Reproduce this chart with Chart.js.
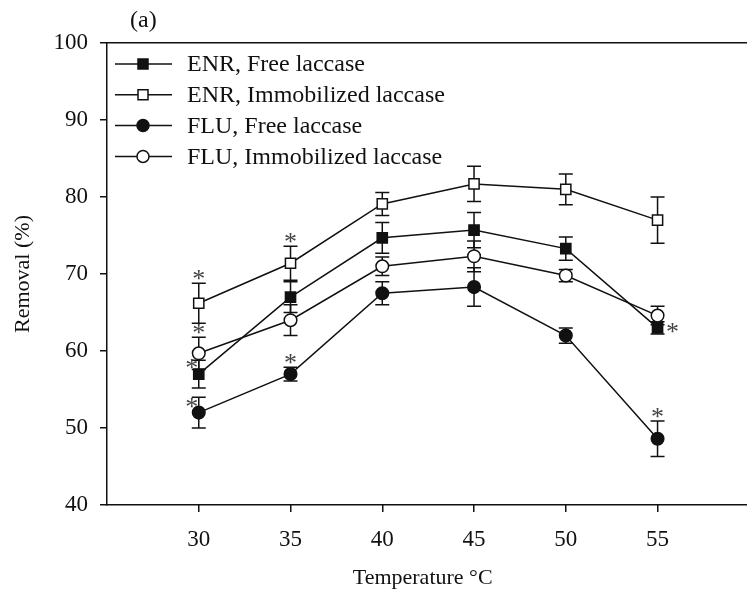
<!DOCTYPE html>
<html lang="en">
<head>
<meta charset="UTF-8">
<title>Removal vs temperature</title>
<style>
  html, body { margin: 0; padding: 0; background: #fff; }
  #wrap { width: 747px; height: 601px; }
</style>
</head>
<body>
<div id="wrap"><canvas id="removalChart" width="747" height="601"></canvas></div>

<script src="https://cdn.jsdelivr.net/npm/chart.js@4"></script>
<script>
// --- data ---
const temps = [30, 35, 40, 45, 50, 55];

const enrFree    = [57.0, 67.0, 74.7, 75.7, 73.3, 63.0];
const enrFreeErr = [1.8, 2.0, 2.0, 2.3, 1.5, 0.8];
const enrImm     = [66.2, 71.4, 79.1, 81.7, 81.0, 77.0];
const enrImmErr  = [2.6, 2.2, 1.5, 2.3, 2.0, 3.0];
const fluFree    = [52.0, 57.0, 67.5, 68.3, 62.0, 48.6];
const fluFreeErr = [2.0, 0.9, 1.5, 2.5, 1.0, 2.3];
const fluImm     = [59.7, 64.0, 71.0, 72.3, 69.8, 64.6];
const fluImmErr  = [2.1, 2.0, 1.2, 2.0, 0.8, 1.2];

// where the significance asterisk sits for each point ('' = none)
const enrFreeStars = ['left', '', '', '', '', 'right'];
const enrImmStars  = ['top', 'top', '', '', '', ''];
const fluFreeStars = ['left', 'top', '', '', '', 'top'];
const fluImmStars  = ['top', '', '', '', '', ''];

const yTicks = [40, 50, 60, 70, 80, 90, 100];

const FONT = '"Liberation Serif", "Times New Roman", serif';
const INK = '#111';

function pts(vals) {
    return temps.map((t, i) => ({ x: t, y: vals[i] }));
}

function makeSet(label, vals, errs, stars, shape, fill) {
    return {
        label: label,
        data: pts(vals),
        errors: errs,
        stars: stars,
        borderColor: INK,
        borderWidth: 1.5,
        pointStyle: shape,
        pointRadius: shape === 'rect' ? 7.2 : 6.3,
        pointHoverRadius: shape === 'rect' ? 7.2 : 6.3,
        pointBackgroundColor: fill,
        pointBorderColor: INK,
        pointBorderWidth: 1.5,
        tension: 0,
        fill: false
    };
}

// error bars go under the markers
const errorBars = {
    id: 'errorBars',
    beforeDatasetsDraw(chart) {
        const ctx = chart.ctx;
        const ys = chart.scales.y;
        ctx.save();
        ctx.strokeStyle = INK;
        ctx.lineWidth = 1.5;
        chart.data.datasets.forEach((ds, i) => {
            chart.getDatasetMeta(i).data.forEach((p, j) => {
                const v = ds.data[j].y, e = ds.errors[j];
                const t = ys.getPixelForValue(v + e);
                const b = ys.getPixelForValue(v - e);
                ctx.beginPath();
                ctx.moveTo(p.x, t); ctx.lineTo(p.x, b);
                ctx.moveTo(p.x - 7, t); ctx.lineTo(p.x + 7, t);
                ctx.moveTo(p.x - 7, b); ctx.lineTo(p.x + 7, b);
                ctx.stroke();
            });
        });
        ctx.restore();
    }
};

const stars = {
    id: 'stars',
    afterDatasetsDraw(chart) {
        const ctx = chart.ctx;
        const ys = chart.scales.y;
        ctx.save();
        ctx.fillStyle = '#444';
        ctx.font = '26px ' + FONT;
        ctx.textAlign = 'center';
        ctx.textBaseline = 'alphabetic';
        chart.data.datasets.forEach((ds, i) => {
            chart.getDatasetMeta(i).data.forEach((p, j) => {
                const where = ds.stars[j];
                if (!where) return;
                let cx = p.x, cy = p.y;
                if (where === 'top') {
                    cy = ys.getPixelForValue(ds.data[j].y + ds.errors[j]) - 8;
                } else if (where === 'left') {
                    cx = p.x - 7; cy = p.y - 10;
                } else if (where === 'right') {
                    cx = p.x + 15;
                }
                ctx.fillText('*', cx, cy + 12);
            });
        });
        ctx.restore();
    }
};

// frame top line, bottom axis line to the edge, legend inside plot, panel label
const extras = {
    id: 'extras',
    afterDraw(chart) {
        const ctx = chart.ctx;
        const a = chart.chartArea;
        const al = v => Math.round(v - 0.75) + 0.75;
        ctx.save();
        ctx.strokeStyle = INK;
        ctx.lineWidth = 1.5;
        ctx.beginPath();
        ctx.moveTo(a.left, al(a.top));
        ctx.lineTo(chart.width, al(a.top));
        ctx.moveTo(a.left - 1, al(a.bottom));
        ctx.lineTo(chart.width, al(a.bottom));
        ctx.stroke();

        ctx.fillStyle = INK;
        ctx.font = '24px ' + FONT;
        ctx.textAlign = 'left';
        ctx.textBaseline = 'alphabetic';
        ctx.fillText('(a)', 130, 27);

        ctx.textBaseline = 'middle';
        chart.data.datasets.forEach((ds, i) => {
            const y = a.top + 21 + i * 30.8;
            const x0 = a.left + 8, x1 = a.left + 65, mx = a.left + 36;
            ctx.beginPath();
            ctx.moveTo(x0, y); ctx.lineTo(x1, y);
            ctx.stroke();
            ctx.fillStyle = ds.pointBackgroundColor;
            ctx.beginPath();
            if (ds.pointStyle === 'rect') {
                ctx.rect(mx - 5, y - 5, 10, 10);
            } else {
                ctx.arc(mx, y, 6, 0, Math.PI * 2);
            }
            ctx.fill();
            ctx.stroke();
            ctx.fillStyle = INK;
            ctx.fillText(ds.label, a.left + 80, y + 1);
        });
        ctx.restore();
    }
};

const ctx = document.getElementById('removalChart').getContext('2d');
new Chart(ctx, {
    type: 'line',
    data: {
        datasets: [
            makeSet('ENR, Free laccase', enrFree, enrFreeErr, enrFreeStars, 'rect', INK),
            makeSet('ENR, Immobilized laccase', enrImm, enrImmErr, enrImmStars, 'rect', '#fff'),
            makeSet('FLU, Free laccase', fluFree, fluFreeErr, fluFreeStars, 'circle', INK),
            makeSet('FLU, Immobilized laccase', fluImm, fluImmErr, fluImmStars, 'circle', '#fff')
        ]
    },
    options: {
        responsive: false,
        animation: false,
        devicePixelRatio: 1,
        layout: { padding: { top: 43, left: 0, right: 0, bottom: 0 } },
        plugins: {
            legend: { display: false },
            tooltip: { enabled: false }
        },
        scales: {
            x: {
                type: 'linear',
                min: 25,
                max: 59.4,
                afterBuildTicks: s => { s.ticks = temps.map(v => ({ value: v })); },
                afterFit: s => { s.height = 96; },
                border: { display: false },
                grid: { drawOnChartArea: false, drawTicks: true, tickLength: 7, color: INK, lineWidth: 1.5 },
                ticks: { color: INK, font: { family: FONT, size: 23 }, padding: 14, maxRotation: 0 },
                title: {
                    display: true,
                    text: 'Temperature °C',
                    color: INK,
                    font: { family: FONT, size: 22 },
                    padding: { top: 0, bottom: 10 }
                }
            },
            y: {
                min: 40,
                max: 100,
                afterBuildTicks: s => { s.ticks = yTicks.map(v => ({ value: v })); },
                afterFit: s => { s.width = 107; },
                border: { display: true, color: INK, width: 1.5 },
                grid: { drawOnChartArea: false, drawTicks: true, tickLength: 7, color: INK, lineWidth: 1.5 },
                ticks: { color: INK, font: { family: FONT, size: 23 }, padding: 12 },
                title: {
                    display: true,
                    text: 'Removal (%)',
                    color: INK,
                    font: { family: FONT, size: 22 },
                    padding: { top: 10, bottom: 0 }
                }
            }
        }
    },
    plugins: [errorBars, stars, extras]
});
</script>
</body>
</html>
